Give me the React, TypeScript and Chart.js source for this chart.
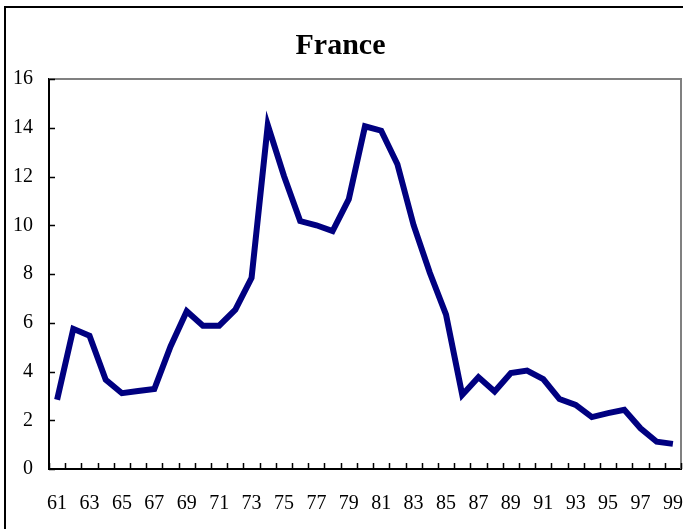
import React, { useEffect, useRef } from "react";
import { Chart, registerables } from "chart.js";

Chart.register(...registerables);

const years = [
  "61", "62", "63", "64", "65", "66", "67", "68", "69", "70",
  "71", "72", "73", "74", "75", "76", "77", "78", "79", "80",
  "81", "82", "83", "84", "85", "86", "87", "88", "89", "90",
  "91", "92", "93", "94", "95", "96", "97", "98", "99",
];

const inflation = [
  2.84, 5.75, 5.47, 3.66, 3.11, 3.2, 3.28, 5.03, 6.47, 5.88,
  5.88, 6.54, 7.84, 14.11, 12.02, 10.17, 10.0, 9.76, 11.07, 14.06,
  13.88, 12.5, 10.0, 8.05, 6.33, 3.04, 3.77, 3.18, 3.94, 4.04,
  3.69, 2.87, 2.63, 2.13, 2.29, 2.43, 1.67, 1.12, 1.03,
];

const titleText = "France";
const yMin = 0;
const yMax = 16;
const yStep = 2;

const FONT = "'Liberation Serif', 'Times New Roman', serif";

const framePlugin = {
  id: "frameTicks",
  afterDraw(chart: any) {
    const { ctx, chartArea, scales } = chart;
    const { left, right, top, bottom } = chartArea;
    ctx.save();
    ctx.strokeStyle = "#808080";
    ctx.lineWidth = 2;
    ctx.beginPath();
    ctx.moveTo(left, top);
    ctx.lineTo(right, top);
    ctx.lineTo(right, bottom);
    ctx.stroke();
    ctx.strokeStyle = "#000";
    ctx.lineWidth = 1.5;
    ctx.beginPath();
    const ys = scales.y;
    for (let v = yMin; v <= yMax; v += yStep) {
      const py = Math.round(ys.getPixelForValue(v)) + 0.5;
      ctx.moveTo(left, py);
      ctx.lineTo(left + 6, py);
    }
    const xs = scales.x;
    const n = years.length;
    const half = (xs.getPixelForValue(1) - xs.getPixelForValue(0)) / 2;
    for (let i = 0; i <= n; i++) {
      const px = Math.round(xs.getPixelForValue(i) - half) + 0.5;
      ctx.moveTo(px, bottom);
      ctx.lineTo(px, bottom - 6);
    }
    ctx.stroke();
    ctx.restore();
  },
};

export default function App() {
  const ref = useRef<HTMLCanvasElement | null>(null);

  useEffect(() => {
    if (!ref.current) return;
    const chart = new Chart(ref.current, {
      type: "line",
      data: {
        labels: years,
        datasets: [
          {
            data: inflation,
            borderColor: "#000080",
            borderWidth: 6,
            pointRadius: 0,
            tension: 0,
            fill: false,
          },
        ],
      },
      options: {
        animation: false,
        responsive: false,
        maintainAspectRatio: false,
        layout: { padding: { left: 0, right: 2, top: 0, bottom: 0 } },
        plugins: {
          legend: { display: false },
          tooltip: { enabled: false },
          title: {
            display: true,
            text: titleText,
            color: "#000",
            font: { family: FONT, size: 30, weight: "bold" },
            padding: { top: 28.5, bottom: 14.5 },
          },
        },
        scales: {
          x: {
            type: "category",
            offset: true,
            grid: { display: false, drawTicks: false, offset: true },
            border: { display: true, color: "#000", width: 2 },
            afterFit(scale: any) {
              scale.height = 60;
              scale.paddingLeft = 0;
              scale.paddingRight = 0;
            },
            ticks: {
              autoSkip: false,
              maxRotation: 0,
              minRotation: 0,
              padding: 23,
              color: "#000",
              font: { family: FONT, size: 20 },
              callback: (_v: any, i: number) => (i % 2 === 0 ? years[i] : ""),
            },
          },
          y: {
            min: yMin,
            max: yMax,
            grid: { display: false, drawTicks: false },
            border: { display: true, color: "#000", width: 2 },
            afterFit(scale: any) {
              scale.width = 49;
              scale.paddingTop = 0;
              scale.paddingBottom = 0;
            },
            ticks: {
              stepSize: yStep,
              padding: 16,
              color: "#000",
              font: { family: FONT, size: 20 },
            },
          },
        },
      },
      plugins: [framePlugin],
    });
    return () => chart.destroy();
  }, []);

  return (
    <div
      style={{
        position: "fixed",
        left: 0,
        top: 0,
        width: 683,
        height: 529,
        overflow: "hidden",
        background: "#fff",
      }}
    >
      <canvas ref={ref} width={683} height={529} style={{ display: "block" }} />
      <div
        style={{
          position: "absolute",
          left: 4,
          top: 6,
          width: 720,
          height: 560,
          border: "2px solid #000",
          pointerEvents: "none",
        }}
      />
    </div>
  );
}
